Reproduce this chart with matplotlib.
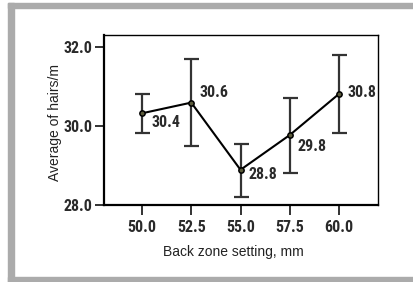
import matplotlib
matplotlib.use("Agg")
import matplotlib.pyplot as plt
from matplotlib.patches import Rectangle

# data
settings = [50.0, 52.5, 55.0, 57.5, 60.0]
means = [30.32, 30.59, 28.89, 29.77, 30.81]
err_top = [30.80, 31.69, 29.54, 30.71, 31.80]
err_bot = [29.82, 29.50, 28.20, 28.80, 29.83]
point_labels = ["30.4", "30.6", "28.8", "29.8", "30.8"]
# label offsets in pixels (right, up)
label_offsets = [(9, -9), (8, 10), (8, -5), (8, -11), (9, 1)]

tick_font = ["Roboto Condensed", "Liberation Sans", "DejaVu Sans"]
label_font = ["Liberation Sans", "DejaVu Sans"]

fig = plt.figure(figsize=(4.14, 2.82), dpi=100)

# gray frame round the figure
gray = "#ababab"
fig.patches.append(Rectangle((8 / 414, 0), 6 / 414, 1 - 3 / 282, transform=fig.transFigure,
                             color=gray, zorder=0))
fig.patches.append(Rectangle((8 / 414, 1 - 8 / 282), 1, 5 / 282, transform=fig.transFigure,
                             color=gray, zorder=0))
fig.patches.append(Rectangle((8 / 414, 0), 1, 5 / 282, transform=fig.transFigure,
                             color=gray, zorder=0))

ax = fig.add_axes([104 / 414, 1 - 205 / 282, 274 / 414, 170 / 282])

lower = [m - b for m, b in zip(means, err_bot)]
upper = [t - m for m, t in zip(means, err_top)]
ax.errorbar(settings, means, yerr=[lower, upper], fmt="none", ecolor="#333333",
            elinewidth=1.6, capsize=5.4, capthick=1.6, zorder=2)
ax.plot(settings, means, color="black", lw=1.5, marker="o", markersize=3.8,
        mfc="#5a5a3a", mec="black", mew=1.1, zorder=3)

for x, y, t, (dx, dy) in zip(settings, means, point_labels, label_offsets):
    ax.annotate(t, (x, y), xytext=(dx * 0.72, dy * 0.72), textcoords="offset points",
                ha="left", va="center", fontsize=11.5, fontweight="bold",
                family=tick_font, color="#2a2a2a")

ax.set_xlim(48.07, 61.98)
ax.set_ylim(28.0, 32.3)
ax.set_xticks(settings)
ax.set_xticklabels(["%.1f" % s for s in settings])
ax.set_yticks([28.0, 30.0, 32.0])
ax.set_yticklabels(["28.0", "30.0", "32.0"])

for lab in ax.get_xticklabels() + ax.get_yticklabels():
    lab.set_family(tick_font)
    lab.set_fontweight("bold")
    lab.set_fontsize(11.5)
    lab.set_color("#2a2a2a")

ax.tick_params(axis="x", length=7.5, width=1.3, pad=3, color="#222222")
ax.tick_params(axis="y", length=6.5, width=1.3, pad=2, color="#222222")
for side in ["top", "right"]:
    ax.spines[side].set_linewidth(1.0)
for side in ["left", "bottom"]:
    ax.spines[side].set_linewidth(1.6)

ax.set_xlabel("Back zone setting, mm", fontsize=10, family=label_font, color="#222222")
ax.set_ylabel("Average of hairs/m", fontsize=10, family=label_font, color="#222222")
ax.xaxis.set_label_coords(0.471, -0.235)
ax.yaxis.set_label_coords(-0.153, 0.485)

fig.savefig("out.png", dpi=100)
